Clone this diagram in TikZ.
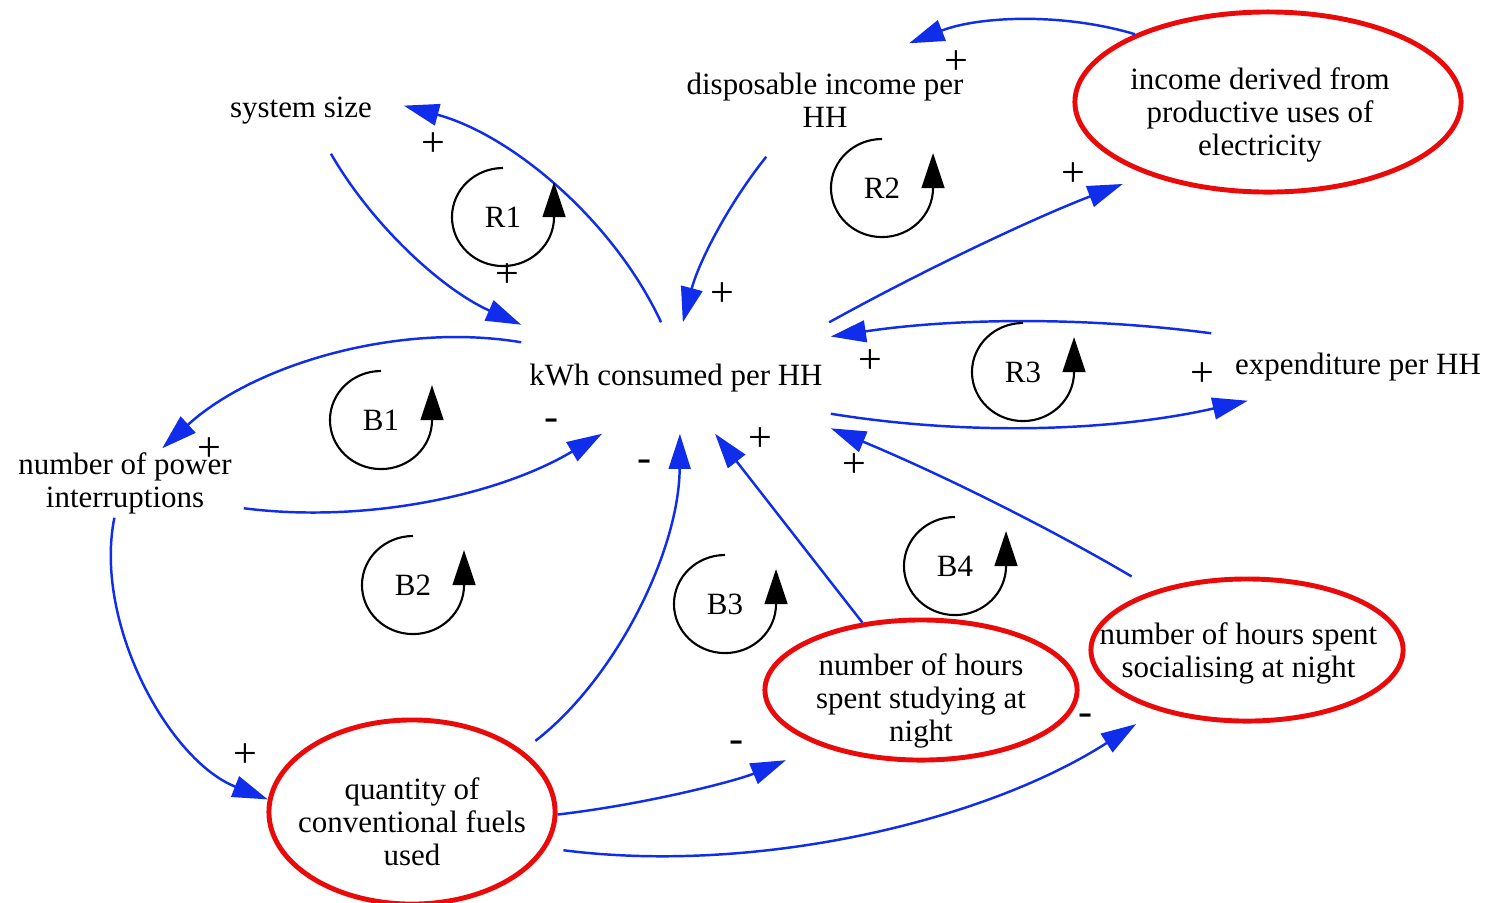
\documentclass[tikz,border=0pt]{standalone}
\usepackage{fontspec}
\setmainfont{Liberation Serif}
\usetikzlibrary{arrows.meta,shapes.geometric}
\definecolor{linkblue}{RGB}{15,45,235}
\definecolor{ringred}{RGB}{235,10,10}
\tikzset{
  var/.style={inner sep=0pt, align=center},
  ring/.style={ellipse, draw=ringred, line width=1.4pt, inner sep=0pt},
  link/.style={linkblue, line width=0.7pt, looseness=0.85, -{Triangle[length=10pt,width=6.2pt]}},
  sgn/.style={inner sep=0pt, font=\fontsize{12}{14}\selectfont},
  looplab/.style={inner sep=0pt},
  loopline/.style={black, line width=0.6pt, -{Triangle[length=10pt,width=6.5pt]}}
}

\begin{document}
\begin{tikzpicture}[x=0.01cm, y=-0.01cm, font=\fontsize{8.8}{9.4}\selectfont]
			\useasboundingbox (0,0) rectangle (1488,902);
			\node[var, minimum width=3.08cm, minimum height=1.1cm] (kwh) at (676,378) {kWh consumed per HH};
			\node[var, minimum width=2.04cm, minimum height=0.84cm] (sys) at (301,111) {system size};
			\node[var, minimum width=3cm, minimum height=1.12cm] (disp) at (825,100) {disposable income per\\HH};
			\node[var, minimum width=2.92cm, minimum height=0.66cm] (exp) at (1358,367) {expenditure per HH};
			\node[var, minimum width=2.36cm, minimum height=0.68cm] (power) at (125,483) {number of power\\interruptions};
			\node[ring, minimum width=3.86cm, minimum height=1.8cm,
			  label={[var, xshift=-0.08cm, yshift=-0.13cm]center:{income derived from\\productive uses of\\electricity}}] (income) at (1268,102) {};
			\node[ring, minimum width=2.86cm, minimum height=1.84cm,
			  label={[var, yshift=-0.1cm]center:{quantity of\\conventional fuels\\used}}] (qty) at (412,812) {};
			\node[ring, minimum width=3.12cm, minimum height=1.4cm,
			  label={[var, yshift=-0.11cm]center:{number of hours\\spent studying at\\night}}] (study) at (921,690) {};
			\node[ring, minimum width=3.12cm, minimum height=1.42cm,
			  label={[var, xshift=-0.085cm, yshift=-0.03cm]center:{number of hours spent\\socialising at night}}] (social) at (1247,650) {};
			\draw[link] (sys.-55) to[bend right=18] (kwh.161);
			\draw[link] (kwh.105) to[bend right=25] (sys.3);
			\draw[link] (disp.224) to[bend right=12] (kwh.83);
			\draw[link, shorten >=0.26cm] (kwh.20) to[bend left=4] (income.211);
			\draw[link] (income.153) to[bend right=19] (disp.34);
			\draw[link] (exp.north west) to[bend right=8] (kwh.15);
			\draw[link] (kwh.-13) to[bend right=11] (exp.197);
			\draw[link] (kwh.167) to[bend right=26] (power.43);
			\draw[link] (power.-12) to[bend right=19] (kwh.217);
			\draw[link] (power.253) to[bend right=40] (qty.175);
			\draw[link, shorten <=0.16cm] (qty.29) to[bend right=26] (kwh.-86);
			\draw[link] (study.131) -- (kwh.-55);
			\draw[link, shorten <=0.27cm] (social.147) to[bend right=4] (kwh.-18);
			\draw[link, shorten >=0.37cm] (qty.-1) to[bend right=8] (study.209);
			\draw[link, shorten <=0.17cm, shorten >=0.25cm] (qty.-15) to[bend right=20] (social.214);
			\foreach \name/\x/\y in {R1/503/217, R2/882/188, R3/1023/372, B1/381/420, B2/413/585, B3/725/604, B4/955/566} {
			  \node[looplab] (\name) at (\x,\y) {\name};
			  \draw[loopline] (\name.center) ++(0,-49) arc[start angle=90, end angle=360, x radius=0.51cm, y radius=0.49cm] -- ++(0,-35);
			}
			\foreach \x/\y [count=\i] in {433/145, 507/276, 956/63, 722/295, 1073/175, 870/362, 1202/375, 209/450, 245/756, 760/440, 854/466}
			  \node[sgn] (plus\i) at (\x,\y) {+};
			\foreach \x/\y [count=\i] in {552/425, 645/466, 737/747, 1086/720}
			  \node[sgn] (minus\i) at (\x,\y) {-};
\end{tikzpicture}
\end{document}
